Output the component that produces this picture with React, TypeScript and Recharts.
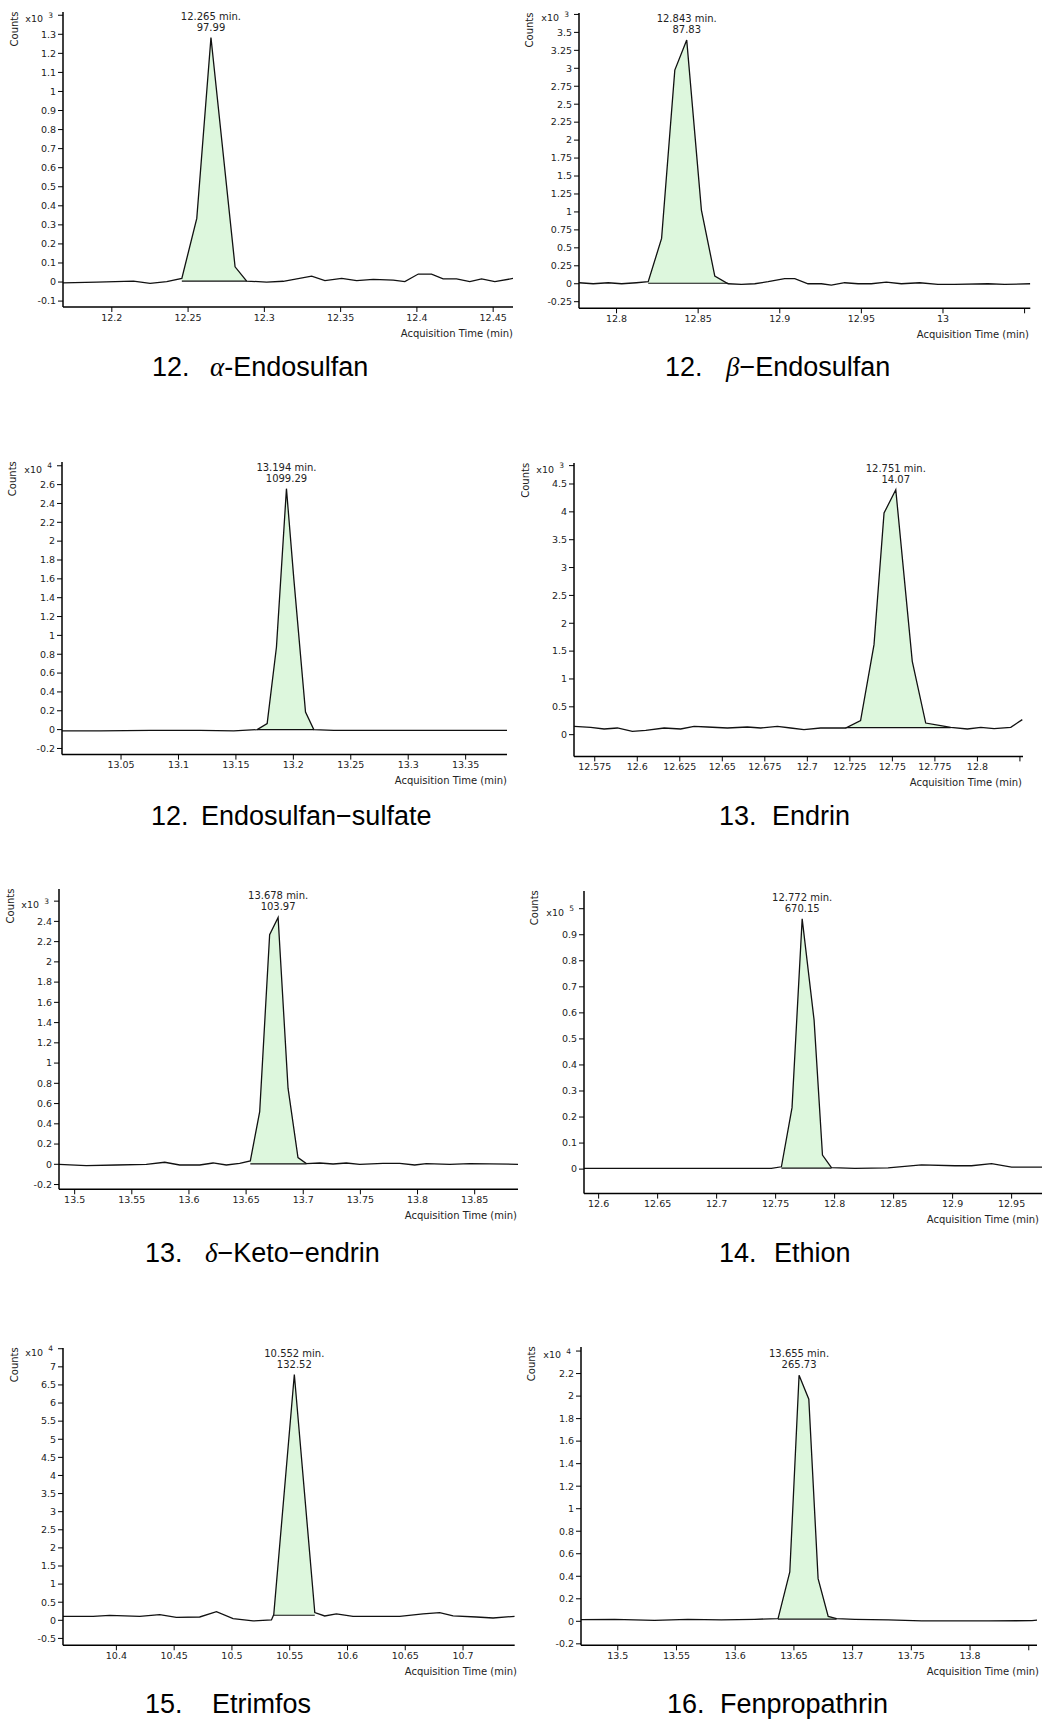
import React from 'react';
import { ComposedChart, Line, Area, XAxis, YAxis, ReferenceDot, ReferenceLine } from 'recharts';

// ---------- Panel 1: alpha-Endosulfan (x10^3) ----------
const alphaTime = [12.1679, 12.1902, 12.2142, 12.2251, 12.236, 12.2459, 12.2557, 12.265, 12.2808, 12.2884, 12.3015, 12.3124, 12.331, 12.3397, 12.3507, 12.3605, 12.3714, 12.3845, 12.3921, 12.4009, 12.4096, 12.4172, 12.426, 12.4347, 12.4424, 12.4511, 12.4631];
const alphaCounts = [-0.004, 0, 0.005, -0.007, 0.002, 0.019, 0.334, 1.283, 0.08, 0.005, 0, 0.004, 0.031, 0.007, 0.019, 0.007, 0.014, 0.01, 0.002, 0.042, 0.042, 0.017, 0.017, 0.002, 0.017, 0.002, 0.019];
const alphaWindow = [12.2459, 12.2884];
const alphaBase = 0.005;
const alphaPeakText = ['12.265 min.', '97.99'];
const alphaXDomain = [12.168, 12.463];
const alphaXTicks = [12.2, 12.25, 12.3, 12.35, 12.4, 12.45];
const alphaXLabels = ['12.2', '12.25', '12.3', '12.35', '12.4', '12.45'];
const alphaYDomain = [-0.131, 1.417];
const alphaYTicks = [-0.1, 0, 0.1, 0.2, 0.3, 0.4, 0.5, 0.6, 0.7, 0.8, 0.9, 1, 1.1, 1.2, 1.3, 1.4];
const alphaExponent = '3';

// ---------- Panel 2: beta-Endosulfan (x10^3) ----------
const betaTime = [12.7771, 12.7857, 12.7949, 12.8031, 12.8122, 12.8194, 12.8276, 12.8357, 12.843, 12.852, 12.8602, 12.8684, 12.8765, 12.8847, 12.8929, 12.903, 12.9092, 12.9173, 12.9255, 12.9316, 12.9398, 12.948, 12.9561, 12.9653, 12.9745, 12.9857, 12.9969, 13.0071, 13.0276, 13.0378, 13.0535];
const betaCounts = [0.014, 0, 0.014, 0, 0.014, 0.028, 0.631, 2.975, 3.393, 1.026, 0.107, 0, -0.01, 0, 0.028, 0.07, 0.07, 0, 0, -0.019, 0.014, 0, 0, 0.023, 0, 0.014, -0.01, -0.01, 0, -0.01, 0];
const betaWindow = [12.8194, 12.8684];
const betaBase = 0.007;
const betaPeakText = ['12.843 min.', '87.83'];
const betaXDomain = [12.777, 13.0535];
const betaXTicks = [12.8, 12.85, 12.9, 12.95, 13, 13.05];
const betaXLabels = ['12.8', '12.85', '12.9', '12.95', '13', ''];
const betaYDomain = [-0.342, 3.77];
const betaYTicks = [-0.25, 0, 0.25, 0.5, 0.75, 1, 1.25, 1.5, 1.75, 2, 2.25, 2.5, 2.75, 3, 3.25, 3.5, 3.75];
const betaExponent = '3';

// ---------- Panel 3: Endosulfan-sulfate (x10^4) ----------
const sulfateTime = [12.9986, 13.032, 13.0756, 13.1191, 13.1481, 13.1685, 13.1772, 13.1853, 13.194, 13.2004, 13.2106, 13.2178, 13.2352, 13.2643, 13.3224, 13.3862];
const sulfateCounts = [-0.014, -0.014, -0.007, -0.007, -0.014, 0, 0.064, 0.877, 2.557, 1.602, 0.187, 0, -0.007, -0.007, -0.007, -0.007];
const sulfateWindow = [13.1685, 13.2178];
const sulfateBase = 0;
const sulfatePeakText = ['13.194 min.', '1099.29'];
const sulfateXDomain = [12.9986, 13.386];
const sulfateXTicks = [13.05, 13.1, 13.15, 13.2, 13.25, 13.3, 13.35];
const sulfateXLabels = ['13.05', '13.1', '13.15', '13.2', '13.25', '13.3', '13.35'];
const sulfateYDomain = [-0.265, 2.84];
const sulfateYTicks = [-0.2, 0, 0.2, 0.4, 0.6, 0.8, 1, 1.2, 1.4, 1.6, 1.8, 2, 2.2, 2.4, 2.6, 2.8];
const sulfateExponent = '4';

// ---------- Panel 4: Endrin (x10^3) ----------
const endrinTime = [12.5629, 12.5726, 12.5805, 12.5883, 12.5971, 12.605, 12.6158, 12.6255, 12.6334, 12.6412, 12.653, 12.6647, 12.6726, 12.6824, 12.6902, 12.698, 12.7078, 12.7225, 12.7313, 12.7392, 12.7451, 12.752, 12.7617, 12.7696, 12.7784, 12.7843, 12.7941, 12.802, 12.8098, 12.8196, 12.8264];
const endrinCounts = [0.15, 0.132, 0.102, 0.12, 0.06, 0.078, 0.12, 0.102, 0.15, 0.138, 0.12, 0.138, 0.12, 0.15, 0.12, 0.09, 0.12, 0.12, 0.251, 1.616, 3.979, 4.398, 1.316, 0.209, 0.162, 0.132, 0.102, 0.132, 0.108, 0.132, 0.27];
const endrinWindow = [12.7225, 12.7843];
const endrinBase = 0.125;
const endrinPeakText = ['12.751 min.', '14.07'];
const endrinXDomain = [12.5628, 12.8268];
const endrinXTicks = [12.575, 12.6, 12.625, 12.65, 12.675, 12.7, 12.725, 12.75, 12.775, 12.8, 12.825];
const endrinXLabels = ['12.575', '12.6', '12.625', '12.65', '12.675', '12.7', '12.725', '12.75', '12.775', '12.8', ''];
const endrinYDomain = [-0.39, 4.877];
const endrinYTicks = [0, 0.5, 1, 1.5, 2, 2.5, 3, 3.5, 4, 4.5, 4.83];
const endrinExponent = '3';

// ---------- Panel 5: delta-Keto-endrin (x10^3) ----------
const ketoTime = [13.4863, 13.5102, 13.5365, 13.5627, 13.5788, 13.5919, 13.6094, 13.6211, 13.6327, 13.6444, 13.6537, 13.6619, 13.6706, 13.678, 13.6867, 13.6954, 13.7027, 13.7144, 13.7261, 13.7377, 13.7494, 13.7698, 13.7844, 13.7975, 13.8077, 13.8282, 13.8457, 13.8879];
const ketoCounts = [0, -0.013, -0.007, 0, 0.02, -0.007, -0.007, 0.013, -0.007, 0.01, 0.033, 0.521, 2.268, 2.439, 0.752, 0.066, 0.007, 0.013, 0.003, 0.013, 0, 0.01, 0.01, -0.007, 0.007, 0, 0.007, 0];
const ketoWindow = [13.6537, 13.7027];
const ketoBase = 0.005;
const ketoPeakText = ['13.678 min.', '103.97'];
const ketoXDomain = [13.4863, 13.8879];
const ketoXTicks = [13.5, 13.55, 13.6, 13.65, 13.7, 13.75, 13.8, 13.85];
const ketoXLabels = ['13.5', '13.55', '13.6', '13.65', '13.7', '13.75', '13.8', '13.85'];
const ketoYDomain = [-0.247, 2.72];
const ketoYTicks = [-0.2, 0, 0.2, 0.4, 0.6, 0.8, 1, 1.2, 1.4, 1.6, 1.8, 2, 2.2, 2.4, 2.6];
const ketoExponent = '3';

// ---------- Panel 6: Ethion (x10^5) ----------
const ethionTime = [12.5876, 12.6192, 12.6616, 12.704, 12.7464, 12.7549, 12.7639, 12.7725, 12.7826, 12.7897, 12.7973, 12.8171, 12.8453, 12.8736, 12.9019, 12.916, 12.933, 12.95, 12.9762];
const ethionCounts = [0.003, 0.003, 0.003, 0.003, 0.003, 0.009, 0.236, 0.961, 0.572, 0.054, 0.006, 0.003, 0.005, 0.016, 0.013, 0.013, 0.021, 0.008, 0.008];
const ethionWindow = [12.7549, 12.7973];
const ethionBase = 0.004;
const ethionPeakText = ['12.772 min.', '670.15'];
const ethionXDomain = [12.5876, 12.976];
const ethionXTicks = [12.6, 12.65, 12.7, 12.75, 12.8, 12.85, 12.9, 12.95];
const ethionXLabels = ['12.6', '12.65', '12.7', '12.75', '12.8', '12.85', '12.9', '12.95'];
const ethionYDomain = [-0.094, 1.068];
const ethionYTicks = [0, 0.1, 0.2, 0.3, 0.4, 0.5, 0.6, 0.7, 0.8, 0.9, 1];
const ethionExponent = '5';

// ---------- Panel 7: Etrimfos (x10^4) ----------
const etrimfosTime = [10.3538, 10.3798, 10.3942, 10.4202, 10.4375, 10.4519, 10.4721, 10.4866, 10.501, 10.5183, 10.5342, 10.5362, 10.554, 10.5717, 10.5803, 10.5904, 10.6048, 10.6221, 10.6452, 10.6654, 10.6798, 10.6914, 10.7116, 10.726, 10.7448];
const etrimfosCounts = [0.11, 0.11, 0.138, 0.11, 0.157, 0.083, 0.092, 0.239, 0.046, -0.018, 0.009, 0.157, 6.787, 0.212, 0.12, 0.175, 0.11, 0.11, 0.11, 0.175, 0.212, 0.12, 0.092, 0.064, 0.11];
const etrimfosWindow = [10.5362, 10.5717];
const etrimfosBase = 0.14;
const etrimfosPeakText = ['10.552 min.', '132.52'];
const etrimfosXDomain = [10.3538, 10.7447];
const etrimfosXTicks = [10.4, 10.45, 10.5, 10.55, 10.6, 10.65, 10.7];
const etrimfosXLabels = ['10.4', '10.45', '10.5', '10.55', '10.6', '10.65', '10.7'];
const etrimfosYDomain = [-0.69, 7.52];
const etrimfosYTicks = [-0.5, 0, 0.5, 1, 1.5, 2, 2.5, 3, 3.5, 4, 4.5, 5, 5.5, 6, 6.5, 7, 7.5];
const etrimfosExponent = '4';

// ---------- Panel 8: Fenpropathrin (x10^4) ----------
const fenproTime = [13.4687, 13.4972, 13.5313, 13.5597, 13.5882, 13.6166, 13.6365, 13.6465, 13.6544, 13.6627, 13.6706, 13.6792, 13.6863, 13.7019, 13.7304, 13.7588, 13.7873, 13.8157, 13.8527, 13.8578];
const fenproCounts = [0.015, 0.018, 0.009, 0.018, 0.012, 0.018, 0.024, 0.438, 2.185, 1.972, 0.379, 0.044, 0.024, 0.018, 0.012, 0.003, 0.003, 0.003, 0.006, 0.012];
const fenproWindow = [13.6365, 13.6863];
const fenproBase = 0.02;
const fenproPeakText = ['13.655 min.', '265.73'];
const fenproXDomain = [13.4687, 13.857];
const fenproXTicks = [13.5, 13.55, 13.6, 13.65, 13.7, 13.75, 13.8, 13.85];
const fenproXLabels = ['13.5', '13.55', '13.6', '13.65', '13.7', '13.75', '13.8', ''];
const fenproYDomain = [-0.213, 2.436];
const fenproYTicks = [-0.2, 0, 0.2, 0.4, 0.6, 0.8, 1, 1.2, 1.4, 1.6, 1.8, 2, 2.2, 2.4];
const fenproExponent = '4';

// ---------- Captions ----------
const compoundNumbers = ['12.', '12.', '12.', '13.', '13.', '14.', '15.', '16.'];
const compoundGreek = ['α', 'β', '', '', 'δ', '', '', ''];
const compoundNames = ['-Endosulfan', '−Endosulfan', 'Endosulfan−sulfate', 'Endrin', '−Keto−endrin', 'Ethion', 'Etrimfos', 'Fenpropathrin'];

const SMALL_FONT = 'DejaVu Sans';
const TEXT_FILL = '#222';

type Layout = {
  boxLeft: number; boxTop: number; boxW: number; boxH: number;
  axL: number; axR: number; axT: number; axB: number;
  capLeft: number; nameLeft: number; capBaseline: number; acqRight: number;
};

type PanelData = {
  time: number[]; counts: number[]; window: number[]; base: number; peakText: string[];
  xDomain: number[]; xTicks: number[]; xLabels: string[];
  yDomain: number[]; yTicks: number[]; exponent: string;
  layout: Layout;
};

const panels: PanelData[] = [
  { time: alphaTime, counts: alphaCounts, window: alphaWindow, base: alphaBase, peakText: alphaPeakText, xDomain: alphaXDomain, xTicks: alphaXTicks, xLabels: alphaXLabels, yDomain: alphaYDomain, yTicks: alphaYTicks, exponent: alphaExponent,
    layout: { boxLeft: 0, boxTop: 0, boxW: 520, boxH: 362, axL: 63, axR: 513, axT: 12, axB: 307, capLeft: 152, nameLeft: 210, capBaseline: 377, acqRight: 513 } },
  { time: betaTime, counts: betaCounts, window: betaWindow, base: betaBase, peakText: betaPeakText, xDomain: betaXDomain, xTicks: betaXTicks, xLabels: betaXLabels, yDomain: betaYDomain, yTicks: betaYTicks, exponent: betaExponent,
    layout: { boxLeft: 521, boxTop: 0, boxW: 521, boxH: 362, axL: 578.7, axR: 1030, axT: 13, axB: 308.3, capLeft: 665, nameLeft: 726, capBaseline: 377, acqRight: 1029 } },
  { time: sulfateTime, counts: sulfateCounts, window: sulfateWindow, base: sulfateBase, peakText: sulfatePeakText, xDomain: sulfateXDomain, xTicks: sulfateXTicks, xLabels: sulfateXLabels, yDomain: sulfateYDomain, yTicks: sulfateYTicks, exponent: sulfateExponent,
    layout: { boxLeft: 0, boxTop: 445, boxW: 520, boxH: 362, axL: 61.7, axR: 506.7, axT: 461.7, axB: 754.3, capLeft: 151, nameLeft: 201, capBaseline: 826, acqRight: 507 } },
  { time: endrinTime, counts: endrinCounts, window: endrinWindow, base: endrinBase, peakText: endrinPeakText, xDomain: endrinXDomain, xTicks: endrinXTicks, xLabels: endrinXLabels, yDomain: endrinYDomain, yTicks: endrinYTicks, exponent: endrinExponent,
    layout: { boxLeft: 521, boxTop: 445, boxW: 521, boxH: 362, axL: 574.3, axR: 1023.3, axT: 463.3, axB: 756.7, capLeft: 719, nameLeft: 772, capBaseline: 826, acqRight: 1022 } },
  { time: ketoTime, counts: ketoCounts, window: ketoWindow, base: ketoBase, peakText: ketoPeakText, xDomain: ketoXDomain, xTicks: ketoXTicks, xLabels: ketoXLabels, yDomain: ketoYDomain, yTicks: ketoYTicks, exponent: ketoExponent,
    layout: { boxLeft: 0, boxTop: 875, boxW: 520, boxH: 362, axL: 59.3, axR: 518.3, axT: 889, axB: 1189.3, capLeft: 145, nameLeft: 205, capBaseline: 1263, acqRight: 517 } },
  { time: ethionTime, counts: ethionCounts, window: ethionWindow, base: ethionBase, peakText: ethionPeakText, xDomain: ethionXDomain, xTicks: ethionXTicks, xLabels: ethionXLabels, yDomain: ethionYDomain, yTicks: ethionYTicks, exponent: ethionExponent,
    layout: { boxLeft: 521, boxTop: 875, boxW: 521, boxH: 362, axL: 583.7, axR: 1042, axT: 890.7, axB: 1193.3, capLeft: 719, nameLeft: 774, capBaseline: 1263, acqRight: 1039 } },
  { time: etrimfosTime, counts: etrimfosCounts, window: etrimfosWindow, base: etrimfosBase, peakText: etrimfosPeakText, xDomain: etrimfosXDomain, xTicks: etrimfosXTicks, xLabels: etrimfosXLabels, yDomain: etrimfosYDomain, yTicks: etrimfosYTicks, exponent: etrimfosExponent,
    layout: { boxLeft: 0, boxTop: 1325, boxW: 520, boxH: 362, axL: 63.3, axR: 515, axT: 1347.7, axB: 1645, capLeft: 145, nameLeft: 212, capBaseline: 1714, acqRight: 517 } },
  { time: fenproTime, counts: fenproCounts, window: fenproWindow, base: fenproBase, peakText: fenproPeakText, xDomain: fenproXDomain, xTicks: fenproXTicks, xLabels: fenproXLabels, yDomain: fenproYDomain, yTicks: fenproYTicks, exponent: fenproExponent,
    layout: { boxLeft: 521, boxTop: 1325, boxW: 521, boxH: 362, axL: 581, axR: 1037, axT: 1346.7, axB: 1645, capLeft: 667, nameLeft: 720, capBaseline: 1714, acqRight: 1039 } },
];

function YTick(props: any) {
  const { x, y, payload, topTick, exponent } = props;
  const v = payload?.value;
  if (Math.abs(v - topTick) < 1e-9) {
    return (
      <g>
        <text x={x - 13} y={y + 7} textAnchor="end" fontSize={9.5} fontFamily={SMALL_FONT} fill={TEXT_FILL}>x10</text>
        <text x={x - 3} y={y + 2.5} textAnchor="end" fontSize={7.5} fontFamily={SMALL_FONT} fill={TEXT_FILL}>{exponent}</text>
      </g>
    );
  }
  return (
    <text x={x} y={y} dy="0.35em" textAnchor="end" fontSize={9.5} fontFamily={SMALL_FONT} fill={TEXT_FILL}>{String(v)}</text>
  );
}

function PeakLabel(props: any) {
  const vb = props.viewBox || {};
  const cx = (vb.x ?? 0) + (vb.width ?? 0) / 2;
  const cy = (vb.y ?? 0) + (vb.height ?? 0) / 2;
  const lines: string[] = props.lines || [];
  return (
    <g>
      <text x={cx} y={cy - 21.5} dy="0.35em" textAnchor="middle" fontSize={10} fontFamily={SMALL_FONT} fill={TEXT_FILL}>{lines[0]}</text>
      <text x={cx} y={cy - 10.5} dy="0.35em" textAnchor="middle" fontSize={10} fontFamily={SMALL_FONT} fill={TEXT_FILL}>{lines[1]}</text>
    </g>
  );
}

function ChromPanel({ p }: { p: PanelData }) {
  const L = p.layout;
  const YW = 60, MT = 40, MR = 10, XH = 40;
  const data = p.time.map((t, i) => ({
    t,
    v: p.counts[i],
    peak: t >= p.window[0] && t <= p.window[1] ? p.counts[i] : null,
  }));
  let apex = 0;
  p.counts.forEach((c, i) => { if (c > p.counts[apex]) apex = i; });
  const topTick = p.yTicks[p.yTicks.length - 1];
  const chartLeft = L.axL - YW - L.boxLeft;
  const chartTop = L.axT - MT - L.boxTop;
  const W = L.axR - L.axL + YW + MR;
  const H = L.axB - L.axT + MT + XH;
  const axisLine = { stroke: '#000', strokeWidth: 1.5 };
  const tickLine = { stroke: '#000', strokeWidth: 1 };
  return (
    <div style={{ position: 'absolute', left: L.boxLeft, top: L.boxTop, width: L.boxW, height: L.boxH, overflow: 'hidden' }}>
      <div style={{ position: 'absolute', left: chartLeft, top: chartTop }}>
        <ComposedChart width={W} height={H} data={data} margin={{ top: MT, right: MR, bottom: 0, left: 0 }}>
          <XAxis
            type="number"
            dataKey="t"
            domain={p.xDomain}
            allowDataOverflow
            ticks={p.xTicks}
            interval={0}
            height={XH}
            tickSize={5}
            tickMargin={2}
            axisLine={axisLine}
            tickLine={tickLine}
            tick={{ fontSize: 9.5, fill: TEXT_FILL, fontFamily: SMALL_FONT }}
            tickFormatter={(v: number) => {
              const i = p.xTicks.indexOf(v);
              return i >= 0 ? p.xLabels[i] : '';
            }}
          />
          <YAxis
            type="number"
            domain={p.yDomain}
            allowDataOverflow
            ticks={p.yTicks}
            interval={0}
            width={YW}
            tickSize={5}
            tickMargin={2}
            axisLine={axisLine}
            tickLine={tickLine}
            tick={(tp: any) => <YTick {...tp} topTick={topTick} exponent={p.exponent} />}
          />
          <Area
            dataKey="peak"
            type="linear"
            baseValue={p.base}
            fill="#ddf7dd"
            fillOpacity={1}
            stroke="none"
            connectNulls={false}
            isAnimationActive={false}
          />
          <ReferenceLine
            segment={[{ x: p.window[0], y: p.base }, { x: p.window[1], y: p.base }]}
            stroke="#111"
            strokeWidth={1.2}
          />
          <Line
            dataKey="v"
            type="linear"
            stroke="#111"
            strokeWidth={1.3}
            dot={false}
            isAnimationActive={false}
          />
          <ReferenceDot
            x={p.time[apex]}
            y={p.counts[apex]}
            r={0}
            fill="none"
            stroke="none"
            label={(lp: any) => <PeakLabel {...lp} lines={p.peakText} />}
          />
        </ComposedChart>
      </div>
      <svg width={L.boxW} height={L.boxH} style={{ position: 'absolute', left: 0, top: 0, overflow: 'visible' }}>
        <text
          x={L.axL - 49 - L.boxLeft}
          y={L.axT + 17 - L.boxTop}
          transform={`rotate(-90 ${L.axL - 49 - L.boxLeft} ${L.axT + 17 - L.boxTop})`}
          textAnchor="middle"
          dy="0.35em"
          fontSize={10}
          fontFamily={SMALL_FONT}
          fill={TEXT_FILL}
        >Counts</text>
        <text
          x={L.acqRight - L.boxLeft}
          y={L.axB + 26 - L.boxTop}
          dy="0.35em"
          textAnchor="end"
          fontSize={10}
          fontFamily={SMALL_FONT}
          fill={TEXT_FILL}
        >Acquisition Time (min)</text>
      </svg>
    </div>
  );
}

const captionStyle: React.CSSProperties = {
  position: 'absolute',
  fontSize: 27,
  lineHeight: '27px',
  fontFamily: '"Liberation Sans", Arial, sans-serif',
  color: '#000',
  whiteSpace: 'pre',
};

function Caption({ idx, layout }: { idx: number; layout: Layout }) {
  const top = layout.capBaseline - 22.8;
  return (
    <>
      <div style={{ ...captionStyle, left: layout.capLeft, top }}>{compoundNumbers[idx]}</div>
      <div style={{ ...captionStyle, left: layout.nameLeft, top }}>
        {compoundGreek[idx] ? (
          <span style={{ fontFamily: '"Liberation Serif", serif', fontStyle: 'italic' }}>{compoundGreek[idx]}</span>
        ) : null}
        {compoundNames[idx]}
      </div>
    </>
  );
}

export default function App() {
  return (
    <div style={{ position: 'absolute', left: 0, top: 0, width: 1042, height: 1722, overflow: 'hidden', background: '#fff' }}>
      {panels.map((p, i) => (
        <ChromPanel key={`panel-${i}`} p={p} />
      ))}
      {panels.map((p, i) => (
        <Caption key={`cap-${i}`} idx={i} layout={p.layout} />
      ))}
    </div>
  );
}
